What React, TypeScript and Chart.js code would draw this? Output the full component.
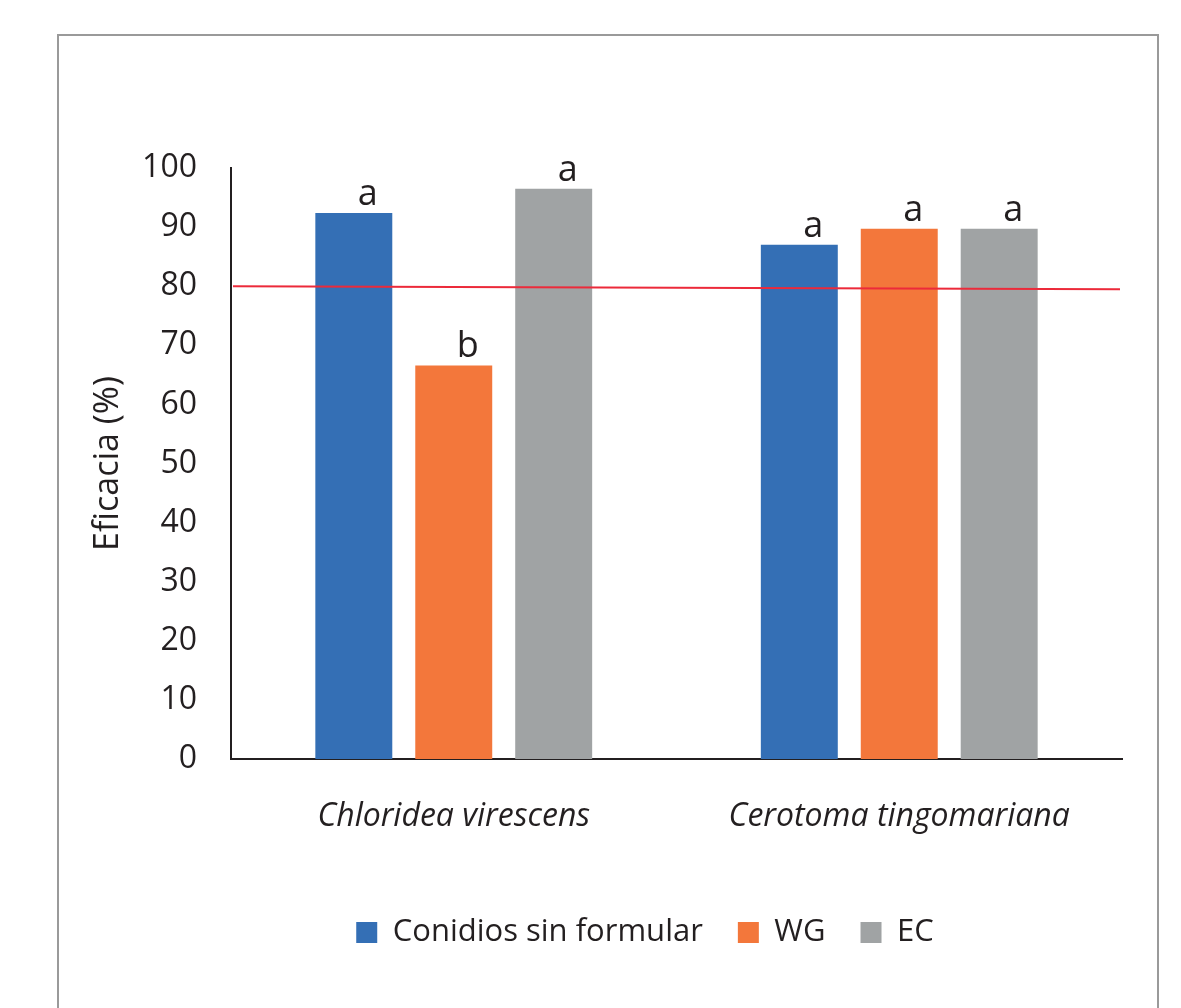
import React, { useEffect, useRef } from "react";
import { Chart, registerables } from "chart.js";

Chart.register(...registerables);

const categories = ["Chloridea virescens", "Cerotoma tingomariana"];
const seriesNames = ["Conidios sin formular", "WG", "EC"];
const conidiosValues = [92.4, 87.0];
const wgValues = [66.6, 89.7];
const ecValues = [96.5, 89.7];
const conidiosLetters = ["a", "a"];
const wgLetters = ["b", "a"];
const ecLetters = ["a", "a"];
const yTicksMin = 0;
const yTicksMax = 100;
const yTicksStep = 10;
const thresholdStart = 80;
const thresholdEnd = 79.5;
const yTitle = "Eficacia (%)";

const FONT = "'Open Sans', 'Noto Sans', sans-serif";
const TEXT = "#231f20";
const COLORS = ["#346fb5", "#f3773b", "#a0a3a4"];

export default function App() {
  const ref = useRef<HTMLCanvasElement | null>(null);

  useEffect(() => {
    if (!ref.current) return;
    const letters = [conidiosLetters, wgLetters, ecLetters];

    const annot = {
      id: "annot",
      afterLayout(chart: any) {
        if (chart.legend) {
          chart.legend.left = 168;
        }
      },
      afterDatasetsDraw(chart: any) {
        const { ctx, chartArea, scales } = chart;
        // threshold line
        ctx.save();
        ctx.strokeStyle = "#ec2a3a";
        ctx.lineWidth = 2;
        ctx.beginPath();
        ctx.moveTo(chartArea.left + 2, scales.y.getPixelForValue(thresholdStart));
        ctx.lineTo(chartArea.right - 2, scales.y.getPixelForValue(thresholdEnd));
        ctx.stroke();
        ctx.restore();
        // letters
        ctx.save();
        ctx.fillStyle = TEXT;
        ctx.font = `36px ${FONT}`;
        ctx.textAlign = "center";
        ctx.textBaseline = "alphabetic";
        chart.data.datasets.forEach((ds: any, di: number) => {
          const meta = chart.getDatasetMeta(di);
          meta.data.forEach((bar: any, i: number) => {
            ctx.fillText(letters[di][i], bar.x + 14, bar.y - 8);
          });
        });
        ctx.restore();
      },
    };

    const chart = new Chart(ref.current, {
      type: "bar",
      data: {
        labels: categories,
        datasets: [
          { label: seriesNames[0], data: conidiosValues, backgroundColor: COLORS[0] },
          { label: seriesNames[1], data: wgValues, backgroundColor: COLORS[1] },
          { label: seriesNames[2], data: ecValues, backgroundColor: COLORS[2] },
        ],
      },
      options: {
        responsive: false,
        animation: false,
        categoryPercentage: 0.673,
        barPercentage: 0.77,
        layout: { padding: { left: 0, right: 59, top: 168, bottom: 50 } },
        plugins: {
          tooltip: { enabled: false },
          legend: {
            position: "bottom",
            labels: {
              boxWidth: 21,
              boxHeight: 21,
              padding: 35,
              color: TEXT,
              font: { family: FONT, size: 31 },
            },
          },
        },
        scales: {
          x: {
            grid: { display: false, drawTicks: false },
            border: { display: true, color: TEXT, width: 2 },
            ticks: {
              color: TEXT,
              padding: 39,
              font: { family: FONT, size: 32, style: "italic" },
            },
            afterFit: (s: any) => {
              s.height = 123;
            },
          },
          y: {
            min: yTicksMin,
            max: yTicksMax,
            grid: { display: false, drawTicks: false },
            border: { display: true, color: TEXT, width: 2 },
            ticks: {
              stepSize: yTicksStep,
              color: TEXT,
              padding: 34,
              font: { family: FONT, size: 32 },
            },
            title: {
              display: true,
              text: yTitle,
              color: TEXT,
              font: { family: FONT, size: 34 },
              padding: { top: 88, bottom: 0 },
            },
            afterFit: (s: any) => {
              s.width = 231;
            },
          },
        },
      },
      plugins: [annot],
    });
    return () => chart.destroy();
  }, []);

  return (
    <div
      style={{
        position: "fixed",
        left: 0,
        top: 0,
        width: 1181,
        height: 1008,
        background: "#fff",
        overflow: "hidden",
      }}
    >
      <div
        style={{
          position: "absolute",
          left: 57,
          top: 34,
          width: 1098,
          height: 1100,
          border: "2px solid #9a9a9a",
        }}
      />
      <canvas
        ref={ref}
        width={1181}
        height={1008}
        style={{ position: "absolute", left: 0, top: 0, width: 1181, height: 1008 }}
      />
    </div>
  );
}
